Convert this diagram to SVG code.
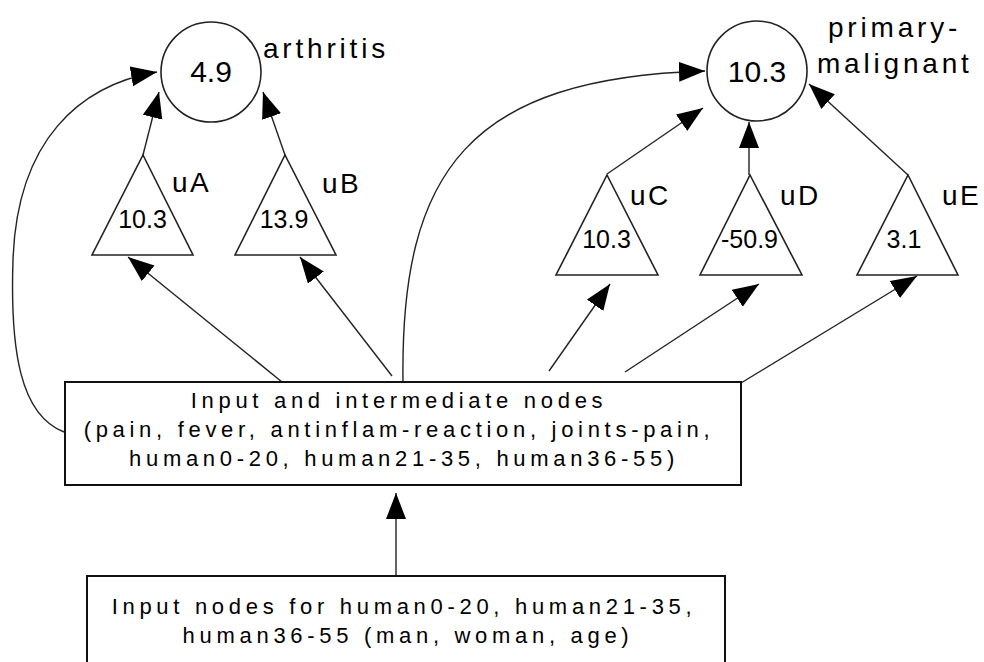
<svg xmlns="http://www.w3.org/2000/svg" width="984" height="662" viewBox="0 0 984 662">
<style>
.ln{fill:none;stroke:#222;stroke-width:1.4;marker-end:url(#ah)}
.shape{fill:#fff;stroke:#222;stroke-width:1.6}
.box{fill:#fff;stroke:#111;stroke-width:2}
.num{font-family:"Liberation Sans",Arial,sans-serif;font-size:30px;fill:#000;text-anchor:middle}
.tnum{font-family:"Liberation Sans",Arial,sans-serif;font-size:25px;fill:#000;text-anchor:middle}
.lab{font-family:"Liberation Sans",Arial,sans-serif;font-size:28px;letter-spacing:3.8px;fill:#000}
.tl{font-family:"Liberation Sans",Arial,sans-serif;font-size:28px;letter-spacing:2.5px;fill:#000}
.bt{font-family:"Liberation Sans",Arial,sans-serif;font-size:22px;letter-spacing:4.7px;fill:#000;text-anchor:middle}
</style>
<defs>
<marker id="ah" markerUnits="userSpaceOnUse" markerWidth="27" markerHeight="21" refX="26" refY="10" orient="auto">
<path d="M0,0 L26,10 L0,20 z" fill="#000"/>
</marker>
</defs>
<rect width="984" height="662" fill="#fff"/>
<g id="connectors">
<path class="ln" d="M64,432 C20,415 10,350 13,260 C17,140 80,85 157,72"/>
<path class="ln" d="M403,382 C400,170 470,78 705,71"/>
<line class="ln" x1="282" y1="382" x2="128" y2="257"/>
<line class="ln" x1="392" y1="376" x2="300" y2="257"/>
<line class="ln" x1="549" y1="371" x2="610" y2="284"/>
<line class="ln" x1="625" y1="372" x2="759" y2="284"/>
<line class="ln" x1="741" y1="383" x2="917" y2="276"/>
<line class="ln" x1="143" y1="155" x2="159" y2="92"/>
<line class="ln" x1="285" y1="155" x2="263" y2="92"/>
<line class="ln" x1="607" y1="174" x2="703" y2="108"/>
<line class="ln" x1="749" y1="175" x2="749" y2="122"/>
<line class="ln" x1="908" y1="175" x2="809" y2="84"/>
<line class="ln" x1="396" y1="576" x2="396" y2="493"/>
</g>
<g id="arthritis">
<circle class="shape" cx="211" cy="72" r="50"/>
<text class="num" x="211" y="82">4.9</text>
<text class="lab" x="263" y="58">arthritis</text>
</g>
<g id="primary-malignant">
<circle class="shape" cx="757" cy="71" r="50"/>
<text class="num" x="757" y="82">10.3</text>
<text class="lab" x="828" y="37">primary-</text>
<text class="lab" x="817" y="73">malignant</text>
</g>
<g id="uA">
<polygon class="shape" points="143,155 193,255 92,255"/>
<text class="tnum" x="142.5" y="228">10.3</text>
<text class="tl" x="172" y="192">uA</text>
</g>
<g id="uB">
<polygon class="shape" points="285,155 336,255 235,255"/>
<text class="tnum" x="284" y="228">13.9</text>
<text class="tl" x="322" y="193">uB</text>
</g>
<g id="uC">
<polygon class="shape" points="607,175 658,275 556,275"/>
<text class="tnum" x="606.5" y="248">10.3</text>
<text class="tl" x="630" y="205">uC</text>
</g>
<g id="uD">
<polygon class="shape" points="750,175 802,275 700,275"/>
<text class="tnum" x="749.5" y="248">-50.9</text>
<text class="tl" x="780" y="205">uD</text>
</g>
<g id="uE">
<polygon class="shape" points="908,175 958,275 857,275"/>
<text class="tnum" x="904" y="248">3.1</text>
<text class="tl" x="942" y="205">uE</text>
</g>
<g id="intermediate">
<rect class="box" x="65" y="382" width="676" height="103"/>
<text class="bt" x="399" y="408">Input and intermediate nodes</text>
<text class="bt" x="399" y="437">(pain, fever, antinflam-reaction, joints-pain,</text>
<text class="bt" x="404" y="466">human0-20, human21-35, human36-55)</text>
</g>
<g id="inputs">
<rect class="box" x="87" y="576" width="638" height="110"/>
<text class="bt" x="404" y="614">Input nodes for human0-20, human21-35,</text>
<text class="bt" x="408" y="643">human36-55 (man, woman, age)</text>
</g>
</svg>
